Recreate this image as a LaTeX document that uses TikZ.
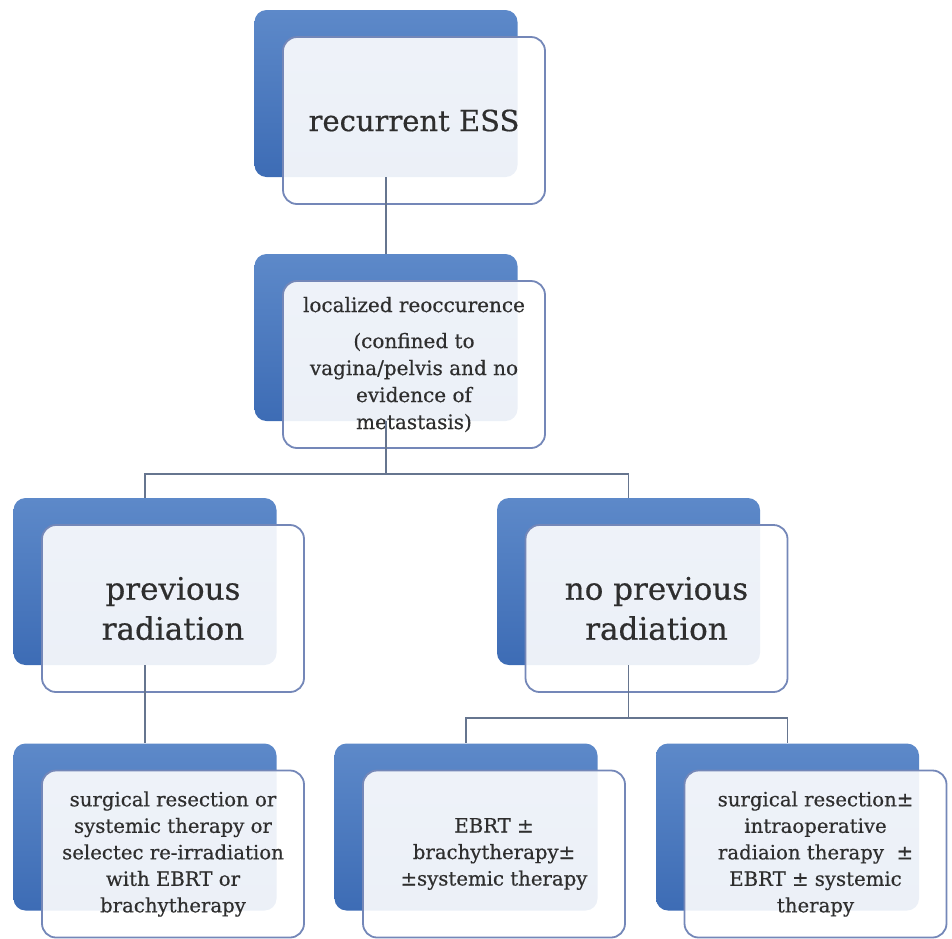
\documentclass[tikz,border=0pt]{standalone}
\usepackage{fontspec}
\setmainfont{DejaVu Serif}[FakeBold=0.5]
\usepackage{tikz}
\definecolor{essblue}{HTML}{5D89C9}
\definecolor{essdark}{HTML}{3D6CB5}
\definecolor{essedge}{HTML}{7487B8}
\definecolor{esslink}{HTML}{66758F}
\definecolor{esstext}{HTML}{2E2E2E}

\begin{document}
\begin{tikzpicture}[
  x=1pt, y=-1pt,
  backbox/.style={rounded corners=12pt, minimum width=263pt, minimum height=167pt, top color=essblue, bottom color=essdark, inner sep=0pt},
  frontbox/.style={draw=essedge, line width=1.8pt, rounded corners=14pt, fill=white, fill opacity=0.9, text opacity=1, minimum width=262pt, minimum height=167pt, align=center, text=esstext, inner sep=0pt},
  link/.style={draw=esslink, line width=1.8pt},
  hugetext/.style={font=\fontsize{31}{40}\selectfont},
  toptext/.style={font=\fontsize{29}{34}\selectfont},
  midtext/.style={font=\fontsize{20}{27}\selectfont},
  lowtext/.style={font=\fontsize{19.7}{26.5}\selectfont},
]
\useasboundingbox (0,0) rectangle (952,938);

% Back panels
\node[backbox] (ess) at (386,93.5) {};
\node[backbox] (loc) at (386,337.5) {};
\node[backbox] (prev) at (145,581.5) {};
\node[backbox] (noprev) at (628.5,581.5) {};
\node[backbox] (reirr) at (145,827) {};
\node[backbox] (ebrt) at (466,827) {};
\node[backbox] (resect) at (787.5,827) {};

% Front panels with text
\node[frontbox, toptext] (essf) at ([shift={(28,27)}]ess.center) {\raisebox{-4pt}{recurrent ESS}};
\node[frontbox, midtext] (locf) at ([shift={(28,27)}]loc.center) {localized reoccurence\\[9pt](confined to\\vagina/pelvis and no\\evidence of\\metastasis)};
\node[frontbox, hugetext] (prevf) at ([shift={(28,27)}]prev.center) {previous\\radiation};
\node[frontbox, hugetext] (noprevf) at ([shift={(28,27)}]noprev.center) {no previous\\radiation};
\node[frontbox, lowtext] (reirrf) at ([shift={(28,27)}]reirr.center) {surgical resection or\\systemic therapy or\\selectec re-irradiation\\with EBRT or\\brachytherapy};
\node[frontbox, lowtext] (ebrtf) at ([shift={(28,27)}]ebrt.center) {EBRT ±\\brachytherapy±\\±systemic therapy};
\node[frontbox, lowtext] (resectf) at ([shift={(28,27)}]resect.center) {surgical resection±\\intraoperative\\radiaion therapy\ \ ±\\EBRT ± systemic\\therapy};

% Connectors
\draw[link] (ess.south) -- (loc.north);
\draw[link] (loc.south) -- ++(0,53) -| (prev.north);
\draw[link] (loc.south) -- ++(0,53) -| (noprev.north);
\draw[link] (prev.south) -- (reirr.north);
\draw[link] (noprev.south) -- ++(0,53) -| (ebrt.north);
\draw[link] (noprev.south) -- ++(0,53) -| (resect.north);

\end{tikzpicture}
\end{document}
